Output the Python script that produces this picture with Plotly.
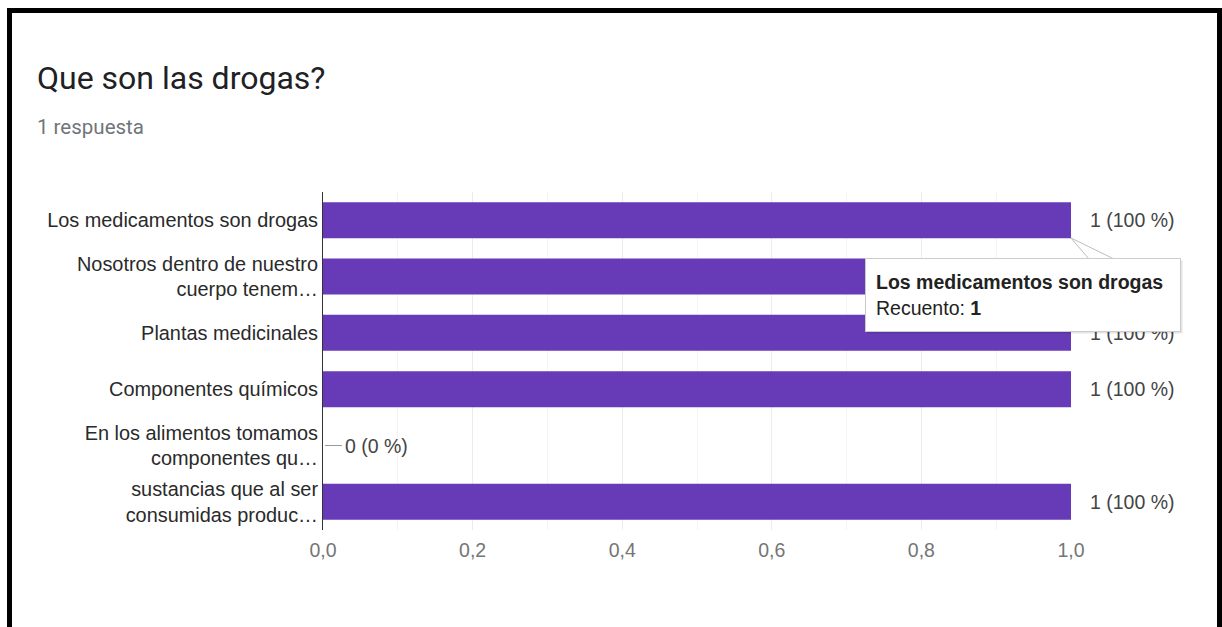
import plotly.graph_objects as go

# ---- data ----
categories = [
    "Los medicamentos son drogas",
    "Nosotros dentro de nuestro<br>cuerpo tenem…",
    "Plantas medicinales",
    "Componentes químicos",
    "En los alimentos tomamos<br>componentes qu…",
    "sustancias que al ser<br>consumidas produc…",
]
counts = [1, 1, 1, 1, 0, 1]
total_responses = 1
tick_vals = [0.0, 0.2, 0.4, 0.6, 0.8, 1.0]

title_text = "Que son las drogas?"
subtitle_text = f"{total_responses} respuesta"
tooltip_cat = categories[0]
tooltip_count = counts[0]

# ---- layout helpers ----
W, H = 1222, 627
def xp(px):
    return px / W
def yp(py):
    return 1 - py / H

BAR = "#673ab7"
FONT = "Liberation Sans, Arial, sans-serif"

fig = go.Figure()
fig.add_trace(go.Bar(
    x=counts, y=categories, orientation="h",
    marker=dict(color=BAR, line=dict(width=0)),
    hoverinfo="skip",
))

annotations = []
shapes = []

# data labels
for c, v in zip(categories, counts):
    pct = round(100 * v / total_responses)
    annotations.append(dict(
        x=v, y=c, xref="x", yref="y", xanchor="left", yanchor="middle",
        xshift=20 if v == 0 else 17, showarrow=False,
        text=f"{v} ({pct} %)", font=dict(family=FONT, size=19.5, color="#444444"),
    ))
    if v == 0:
        shapes.append(dict(
            type="line", xref="x", yref="y", xsizemode="pixel", xanchor=v,
            x0=2, x1=19, y0=c, y1=c, line=dict(color="#999999", width=1),
        ))

# title / subtitle
annotations.append(dict(
    x=xp(35), y=yp(78), xref="paper", yref="paper", xanchor="left", yanchor="middle",
    showarrow=False, text=title_text,
    font=dict(family="Roboto, Arial, sans-serif", size=32, color="#202124"),
))
annotations.append(dict(
    x=xp(35), y=yp(127), xref="paper", yref="paper", xanchor="left", yanchor="middle",
    showarrow=False, text=subtitle_text,
    font=dict(family="Roboto, Arial, sans-serif", size=20.5, color="#70757a"),
))

# tooltip tail
shapes.append(dict(
    type="path", xref="paper", yref="paper",
    path=f"M {xp(1071)} {yp(238)} L {xp(1089)} {yp(259)} L {xp(1114)} {yp(259)} Z",
    fillcolor="white", line=dict(color="#bdbdbd", width=1),
))

# tooltip shadow + box
annotations.append(dict(
    x=xp(867), y=yp(260), xref="paper", yref="paper", xanchor="left", yanchor="top",
    showarrow=False, text=" ", width=294, height=52, borderpad=10,
    bgcolor="rgba(0,0,0,0.10)", bordercolor="rgba(0,0,0,0)",
))
annotations.append(dict(
    x=xp(865), y=yp(258), xref="paper", yref="paper", xanchor="left", yanchor="top",
    showarrow=False, align="left", valign="middle",
    text=f"<b>{tooltip_cat}</b><br>Recuento: <b>{tooltip_count}</b>",
    font=dict(family=FONT, size=19.5, color="#222222"),
    width=294, height=52, borderpad=10,
    bgcolor="white", bordercolor="#cccccc", borderwidth=1,
))

# black frame
for x0, x1, y0, y1 in [(7, 12, 8, 627), (7, 1222, 8, 13), (1217, 1222, 8, 627)]:
    shapes.append(dict(
        type="rect", xref="paper", yref="paper",
        x0=xp(x0), x1=xp(x1), y0=yp(y1), y1=yp(y0),
        fillcolor="black", line=dict(width=0), layer="above",
    ))

fig.update_layout(
    width=W, height=H,
    margin=dict(l=0, r=0, t=0, b=0, pad=0, autoexpand=False),
    paper_bgcolor="white", plot_bgcolor="white",
    showlegend=False, bargap=0.36,
    separators=",.",
    font=dict(family=FONT, size=19.5, color="#222222"),
    xaxis=dict(
        domain=[xp(323), xp(1071)], range=[0, 1],
        tickvals=tick_vals, tickformat=".1f",
        tickfont=dict(family=FONT, size=19.5, color="#757575"),
        showgrid=True, gridcolor="#ececec", gridwidth=1,
        minor=dict(dtick=0.1, showgrid=True, gridcolor="#f4f4f4"),
        zeroline=False, showline=False, ticks="", ticklabelstandoff=6,
        fixedrange=True, automargin=False,
    ),
    yaxis=dict(
        domain=[yp(530), yp(192)],
        categoryorder="array", categoryarray=categories, autorange="reversed",
        tickfont=dict(family=FONT, size=19.9, color="#2a2a2a"),
        showline=True, linecolor="#333333", linewidth=1,
        showgrid=False, zeroline=False, ticks="", ticklabelstandoff=0,
        fixedrange=True, automargin=False,
    ),
    annotations=annotations,
    shapes=shapes,
)

fig.write_html(
    "out.html",
    config={"displayModeBar": False},
    post_script="document.body.style.margin='0px';document.body.style.overflow='hidden';",
)
